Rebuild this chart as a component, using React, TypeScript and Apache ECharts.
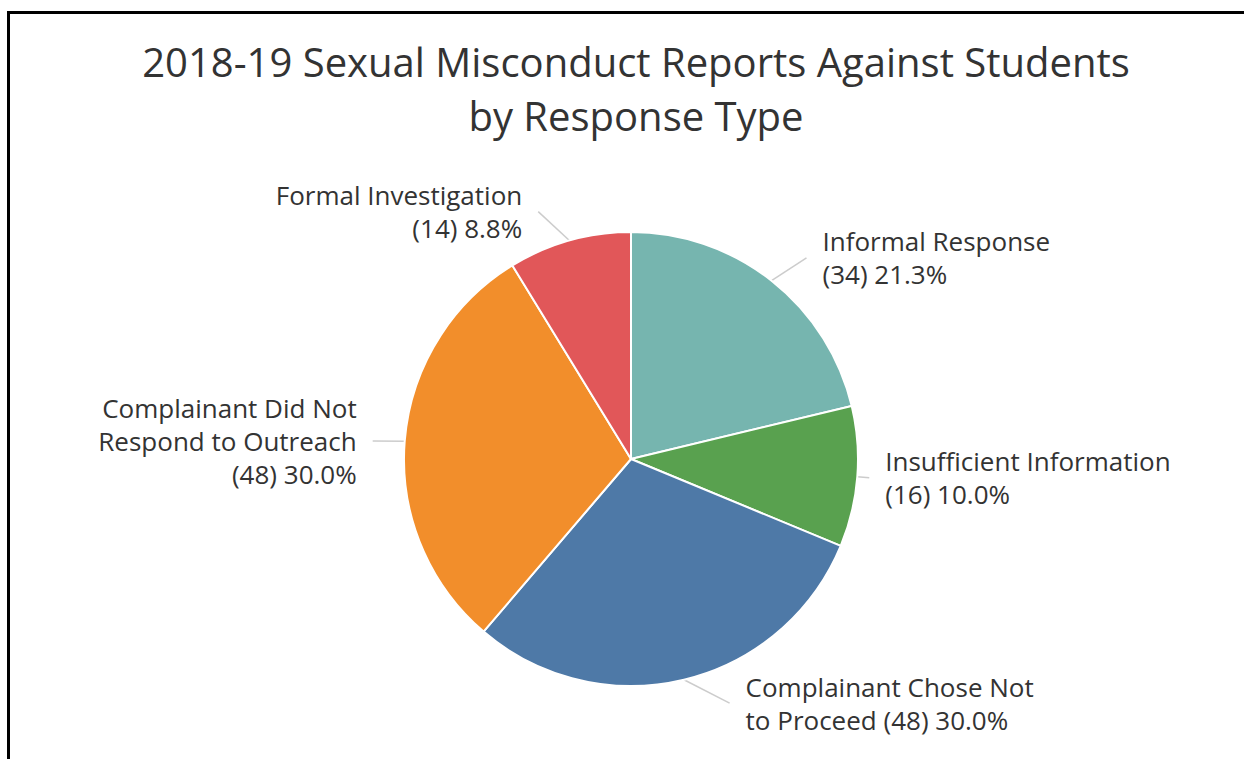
import React, { useEffect, useRef } from "react";
import * as echarts from "echarts";

const titleLines = ["2018-19 Sexual Misconduct Reports Against Students", "by Response Type"];
const categories = [
  "Informal Response",
  "Insufficient Information",
  "Complainant Chose Not to Proceed",
  "Complainant Did Not Respond to Outreach",
  "Formal Investigation",
];
const counts = [34, 16, 48, 48, 14];
const labelPrefixes = [
  "Informal Response\n",
  "Insufficient Information\n",
  "Complainant Chose Not\nto Proceed ",
  "Complainant Did Not\nRespond to Outreach\n",
  "Formal Investigation\n",
];
const colors = ["#76B5AF", "#59A14F", "#4E79A7", "#F28E2B", "#E15759"];
// leader line styling (first radial segment, horizontal segment)
const lineLen = [29, 12, 24, 1, 30];
const lineLen2 = [17, 0, 40, 31, 23];

const FONT = "'Open Sans', 'Noto Sans', sans-serif";

export default function App() {
  const ref = useRef<HTMLDivElement>(null);
  useEffect(() => {
    if (!ref.current) return;
    const chart = echarts.init(ref.current, undefined, { renderer: "svg" });
    const total = counts.reduce((a, b) => a + b, 0);
    chart.setOption({
      animation: false,
      backgroundColor: "transparent",
      title: {
        text: titleLines.join("\n"),
        left: 631,
        top: 29,
        textAlign: "center",
        textStyle: {
          fontFamily: FONT,
          fontSize: 40,
          fontWeight: "normal",
          color: "#333333",
          lineHeight: 54,
        },
      },
      series: [
        {
          type: "pie",
          center: [631, 459],
          radius: 227,
          startAngle: 90,
          clockwise: true,
          avoidLabelOverlap: false,
          itemStyle: { borderColor: "#ffffff", borderWidth: 2 },
          label: {
            show: true,
            position: "outside",
            fontFamily: FONT,
            fontSize: 26,
            lineHeight: 33,
            color: "#333333",
            distanceToLabelLine: 16,
            formatter: (p: any) =>
              labelPrefixes[p.dataIndex] +
              "(" + p.value + ") " + ((p.value / total) * 100).toFixed(1) + "%",
          },
          labelLine: {
            show: true,
            smooth: false,
            lineStyle: { color: "#cccccc", width: 1.5 },
          },
          labelLayout: (params: any) => {
            const pts = params.labelLinePoints;
            if (!pts || pts.length < 2) return {};
            return { labelLinePoints: [pts[0], pts[pts.length - 1]] };
          },
          emphasis: { disabled: true },
          data: categories.map((name, i) => ({
            name,
            value: counts[i],
            itemStyle: { color: colors[i] },
            labelLine: { length: lineLen[i], length2: lineLen2[i] },
          })),
        },
      ],
    });
    return () => chart.dispose();
  }, []);

  return (
    <div
      style={{
        position: "fixed",
        left: 0,
        top: 0,
        width: 1244,
        height: 759,
        background: "#ffffff",
        overflow: "hidden",
      }}
    >
      <div
        style={{
          position: "absolute",
          left: 7,
          top: 11,
          width: 1260,
          height: 800,
          borderTop: "3px solid #000",
          borderLeft: "3px solid #000",
          boxSizing: "border-box",
        }}
      />
      <div
        ref={ref}
        style={{ position: "absolute", left: 0, top: 0, width: 1244, height: 759 }}
      />
    </div>
  );
}
